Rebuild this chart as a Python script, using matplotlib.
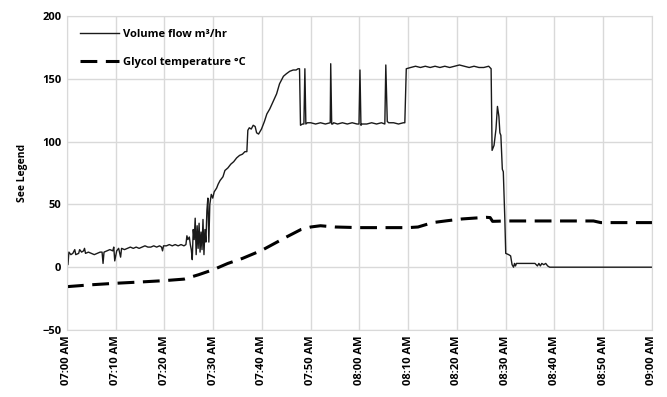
import pandas as pd
import matplotlib
matplotlib.use("Agg")
import matplotlib.pyplot as plt
import matplotlib.dates as mdates

# ---------------- Data (minutes after 07:00) ----------------

flow_min = [0.0, 0.2, 0.4, 0.8, 1.2, 1.6, 1.8, 2.4, 2.6, 3.0, 3.4, 3.6, 3.8, 4.4, 5.0,
            5.6, 6.2, 6.8, 7.2, 7.4, 7.6, 8.2, 8.8, 9.4, 9.6, 9.8, 10.0, 10.2, 10.6,
            11.0, 11.2, 11.8, 12.4, 13.0, 13.6, 14.2, 14.8, 15.4, 16.0, 16.6, 17.2,
            17.8, 18.4, 19.0, 19.4, 19.6, 19.8, 20.4, 21.0, 21.6, 22.2, 22.8, 23.4,
            24.0, 24.4, 24.6, 24.8, 25.1, 25.3, 25.5, 25.7, 25.9, 26.1, 26.3, 26.5,
            26.7, 26.9, 27.1, 27.3, 27.5, 27.7, 27.9, 28.1, 28.3, 28.5, 28.7, 28.9,
            29.1, 29.3, 29.6, 29.9, 30.2, 30.7, 31.0, 31.4, 32.0, 32.4, 33.0, 33.6,
            34.2, 34.8, 35.4, 36.0, 36.5, 36.9, 37.1, 37.4, 37.8, 38.2, 38.6, 38.9,
            39.3, 39.9, 40.5, 41.0, 41.6, 42.3, 43.0, 43.6, 44.4, 45.0, 45.7, 46.4,
            47.0, 47.4, 47.7, 47.9, 48.3, 48.6, 48.8, 49.0, 49.3, 50.0, 51.0, 52.0,
            53.0, 54.0, 54.1, 54.3, 54.5, 54.7, 55.5, 56.5, 57.5, 58.5, 59.5, 59.9,
            60.1, 60.3, 60.5, 61.5, 62.5, 63.5, 64.5, 65.2, 65.4, 65.7, 66.0, 67.0,
            68.0, 69.0, 69.3, 69.6, 70.5, 71.5, 72.5, 73.5, 74.5, 75.5, 76.5, 77.5,
            78.5, 79.5, 80.5, 81.5, 82.5, 83.5, 84.5, 85.5, 86.5, 87.0, 87.2, 87.6,
            88.0, 88.3, 88.6, 88.8, 89.0, 89.3, 89.5, 89.8, 90.0, 90.6, 91.0, 91.3,
            91.6, 91.8, 92.0, 92.2, 92.5, 93.0, 94.0, 95.0, 96.0, 96.5, 96.8, 97.1,
            97.4, 97.8, 98.2, 98.6, 99.0, 105.0, 112.0, 120.0]
flow_val = [10, 2, 12, 10, 11, 14, 10, 11, 14, 12, 13, 15, 11, 12, 11,
            10, 11, 12, 12, 3, 12, 13, 14, 13, 16, 5, 9, 13, 15,
            8, 15, 14, 15, 16, 15, 16, 15, 16, 17, 16, 16,
            17, 16, 17, 16, 13, 17, 17, 18, 17, 18, 17, 18,
            17, 18, 25, 22, 24, 18, 14, 6, 30, 22, 39, 10,
            33, 15, 35, 12, 28, 14, 38, 10, 30, 20, 45, 55,
            20, 50, 58, 55, 60, 63, 66, 69, 72, 77, 79, 82,
            84, 87, 89, 90, 92, 92, 109, 111, 110, 113, 112, 107,
            106, 110, 116, 122, 126, 132, 138, 146, 152, 154, 156, 157,
            157, 158, 158, 113, 114, 114, 158, 114, 115, 115, 114, 115,
            114, 115, 162, 114, 114, 115, 114, 115, 114, 115, 114, 114,
            157, 113, 114, 114, 115, 114, 115, 114, 161, 116, 115, 115,
            114, 115, 115, 158, 159, 160, 159, 160, 159, 160, 159, 160,
            159, 160, 161, 160, 159, 160, 159, 159, 160, 158, 93, 97,
            110, 128, 120, 107, 105, 78, 76, 40, 11, 10, 9, 2,
            0, 3, 1, 3, 3, 3, 3, 3, 3, 1, 3, 1,
            3, 2, 3, 1, 0, 0, 0, 0]

glycol_min = [0, 5, 10, 15, 20, 24, 27, 30, 33, 36, 40, 45, 48, 50, 52, 55, 60, 65, 70,
              72, 75, 78, 81, 84, 86, 86.8, 87.3, 90, 100, 108, 109.5, 120]
glycol_val = [-15.5, -14, -12.8, -11.8, -10.7, -9.5, -6, -2, 3, 7, 13.5, 24, 30, 32, 33,
              32, 31.5, 31.5, 31.5, 32, 35.5, 37, 38.4, 39.2, 39.7, 39.5, 36.5, 36.8,
              36.8, 36.8, 35.5, 35.5]

start = pd.Timestamp("2020-01-01 07:00")
flow_t = start + pd.to_timedelta(flow_min, unit="m")
glycol_t = start + pd.to_timedelta(glycol_min, unit="m")

# ---------------- Plot ----------------

plt.rcParams['font.family'] = ['Open Sans', 'DejaVu Sans']

fig = plt.figure(figsize=(6.67, 3.97), dpi=100)
ax = fig.add_axes([0.1004, 0.1688, 0.8771, 0.7909])

ax.plot(flow_t, flow_val, color='#1a1a1a', linewidth=1.0, label='Volume flow m³/hr')
ax.plot(glycol_t, glycol_val, color='#000000', linewidth=2.2,
        linestyle=(0, (5.5, 2.8)), label='Glycol temperature °C')

ax.set_xlim(start, start + pd.Timedelta(minutes=120))
ax.set_ylim(-50, 200)
ax.set_yticks([-50, 0, 50, 100, 150, 200])
ax.xaxis.set_major_locator(mdates.MinuteLocator(byminute=range(0, 60, 10)))
ax.xaxis.set_major_formatter(mdates.DateFormatter('%I:%M %p'))

ax.grid(color='#d9d9d9', linewidth=1)
ax.set_axisbelow(True)
for s in ax.spines.values():
    s.set_color('#d9d9d9')
ax.tick_params(length=0, labelsize=8, pad=4)
for lbl in ax.get_xticklabels():
    lbl.set_rotation(90)
    lbl.set_fontweight('bold')
for lbl in ax.get_yticklabels():
    lbl.set_fontweight('bold')

ax.set_ylabel('See Legend', fontsize=7.5, fontweight='bold', labelpad=10)

leg = ax.legend(loc='upper left', frameon=False, fontsize=8, handlelength=3.5,
                labelspacing=1.5, borderaxespad=0.8, handletextpad=0.3)
for t in leg.get_texts():
    t.set_fontweight('bold')

fig.savefig('out.png', dpi=100)
